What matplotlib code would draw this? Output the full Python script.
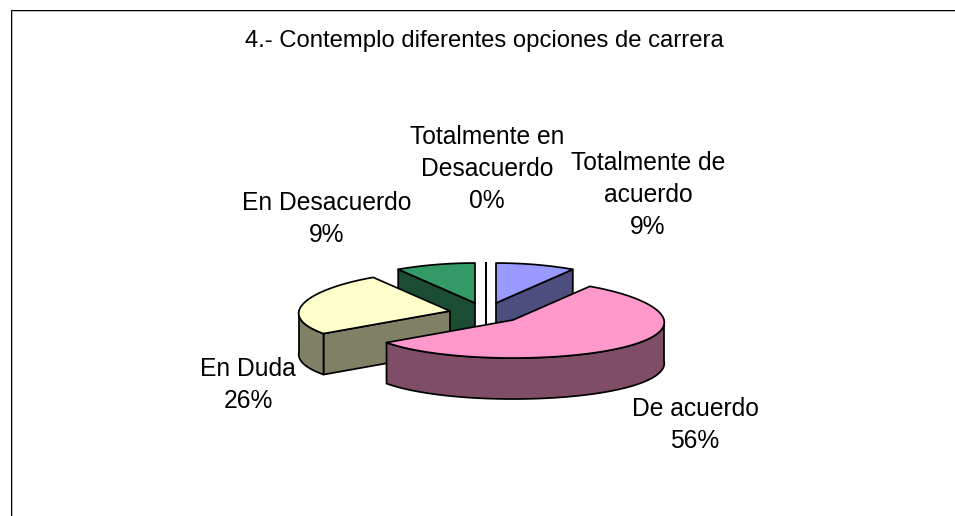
import numpy as np
import matplotlib
matplotlib.use("Agg")
from matplotlib import pyplot as plt

title = "4.- Contemplo diferentes opciones de carrera"
categories = ["Totalmente de\nacuerdo", "De acuerdo", "En Duda", "En Desacuerdo", "Totalmente en\nDesacuerdo"]
percents = [9, 56, 26, 9, 0]
top_colors = ["#9999FF", "#FF99CC", "#FFFFCC", "#339966", "#660066"]
side_colors = ["#4D4D80", "#804D66", "#808066", "#1A4D33", "#330033"]

## layout, in pixels of the picture
rx, ry, depth = 151, 39, 41
centers = [(496, 303), (513, 320), (450, 311), (475, 303), (486, 303)]
label_pos = [(648, 195), (695, 425), (248, 385), (327, 219), (487, 169)]
draw_order = [3, 4, 0, 2, 1]

def rim(cx, cy, theta):
    ## theta in degrees, clockwise from the back of the pie
    ## back of the pie is a little narrower than the front (perspective)
    t = np.radians(theta)
    return cx + rx*(1-0.06*np.cos(t))*np.sin(t), cy - ry*(1+0.025*np.cos(t))*np.cos(t)

def draw_slice(ax, cx, cy, start, end, top, side):
    lw = 1.25
    sx, sy = rim(cx, cy, start)
    ex, ey = rim(cx, cy, end)
    ## flat side walls, only the ones that face the viewer
    if start > 180:
        ax.fill([cx, sx, sx, cx], [cy, sy, sy+depth, cy+depth], fc=side, ec='k', lw=lw, joinstyle='round')
    if end < 180:
        ax.fill([cx, ex, ex, cx], [cy, ey, ey+depth, cy+depth], fc=side, ec='k', lw=lw, joinstyle='round')
    ## round outer wall
    a, b = max(start, 90), min(end, 270)
    if b > a:
        th = np.linspace(a, b, 80)
        x, y = rim(cx, cy, th)
        ax.fill(np.r_[x, x[::-1]], np.r_[y, y[::-1]+depth], fc=side, ec='k', lw=lw, joinstyle='round')
    ## top face
    th = np.linspace(start, end, 120)
    x, y = rim(cx, cy, th)
    ax.fill(np.r_[cx, x], np.r_[cy, y], fc=top, ec='k', lw=lw, joinstyle='round')

fig = plt.figure(figsize=(9.55, 5.16), dpi=100)
ax = fig.add_axes([0, 0, 1, 1])
ax.set_xlim(0, 955)
ax.set_ylim(516, 0)
ax.axis('off')
plt.rcParams['font.family'] = ['Liberation Sans', 'DejaVu Sans']

## chart frame, open on the right, with its grey edge
ax.plot([11.5, 11.5, 955], [516, 10.5, 10.5], color='#bbbbbb', lw=0.72)
ax.plot([10.5, 10.5, 955], [516, 9.5, 9.5], color='k', lw=0.72)

edges = np.r_[0, np.cumsum(percents)] * 360.0 / np.sum(percents)
for i in draw_order:
    draw_slice(ax, centers[i][0], centers[i][1], edges[i], edges[i+1], top_colors[i], side_colors[i])

ax.text(484.5, 41, title, ha='center', va='center', fontsize=17.2)
for cat, p, pos in zip(categories, percents, label_pos):
    ax.text(pos[0], pos[1], f"{cat}\n{p}%", ha='center', va='center', fontsize=17.7, linespacing=1.42)

fig.savefig("out.png", dpi=100)
